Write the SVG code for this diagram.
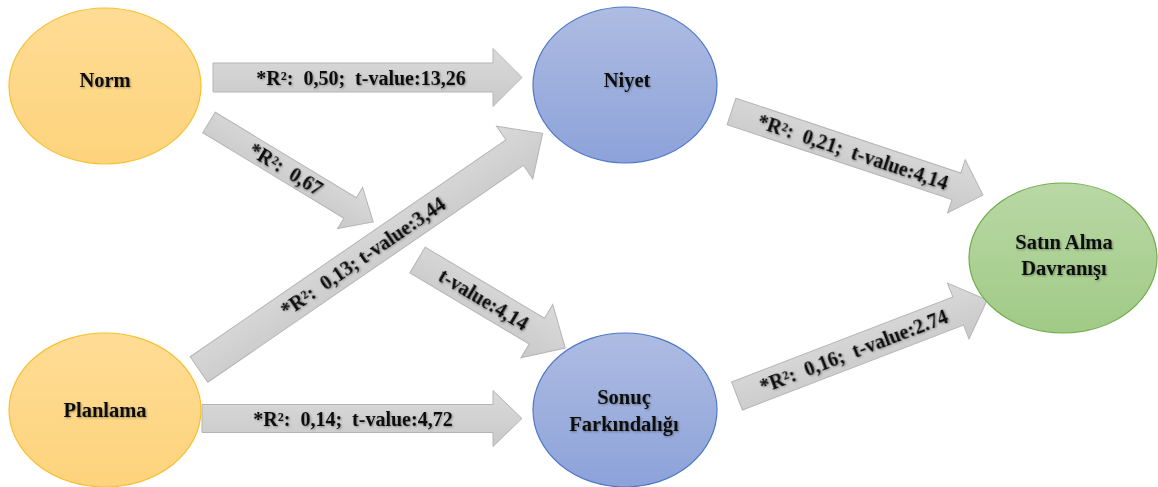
<svg xmlns="http://www.w3.org/2000/svg" width="1158" height="487" viewBox="0 0 1158 487">
  <defs>
    <linearGradient id="gOrange" x1="0" y1="0" x2="0" y2="1">
      <stop offset="0" stop-color="#ffdc95"/>
      <stop offset="1" stop-color="#fdd37c"/>
    </linearGradient>
    <linearGradient id="gBlue" x1="0" y1="0" x2="0" y2="1">
      <stop offset="0" stop-color="#aebce2"/>
      <stop offset="1" stop-color="#8ca2d9"/>
    </linearGradient>
    <linearGradient id="gGreen" x1="0" y1="0" x2="0" y2="1">
      <stop offset="0" stop-color="#b9d8a5"/>
      <stop offset="1" stop-color="#a0ca86"/>
    </linearGradient>
    <linearGradient id="gGray" x1="0" y1="0" x2="0" y2="1">
      <stop offset="0" stop-color="#dadada"/>
      <stop offset="1" stop-color="#c9c9c9"/>
    </linearGradient>
    <filter id="ts" x="-10%" y="-30%" width="120%" height="160%">
      <feGaussianBlur in="SourceAlpha" stdDeviation="0.8"/>
      <feOffset dx="0.8" dy="0.8" result="b"/>
      <feFlood flood-color="#000" flood-opacity="0.35"/>
      <feComposite in2="b" operator="in"/>
      <feMerge><feMergeNode/><feMergeNode in="SourceGraphic"/></feMerge>
    </filter>
  </defs>
  <style>
    .orange { fill: url(#gOrange); stroke: #f7c030; stroke-width: 1.2; }
    .blue { fill: url(#gBlue); stroke: #4f78c8; stroke-width: 1.2; }
    .green { fill: url(#gGreen); stroke: #72ad4c; stroke-width: 1.2; }
    .nlabel { font-family: "Liberation Serif", "Times New Roman", serif; font-weight: bold; font-size: 20.5px; fill: #111; text-anchor: middle; }
    .arrow { fill: url(#gGray); stroke: #b5b5b5; stroke-width: 1; }
    .alabel { font-family: "Liberation Serif", "Times New Roman", serif; font-weight: bold; font-size: 20px; fill: #111; text-anchor: middle; }
  </style>
  <rect width="1158" height="487" fill="#ffffff"/>

  <g id="connectors">
    <g transform="translate(213,77.5)">
      <path class="arrow" d="M0,-14.5 L280,-14.5 L280,-29 L309,0 L280,29 L280,14.5 L0,14.5 Z"/>
      <text class="alabel" x="148" y="7" filter="url(#ts)">*R²:&#160; 0,50;&#160; t-value:13,26</text>
    </g>
    <g transform="translate(202,418.5)">
      <path class="arrow" d="M0,-14 L291,-14 L291,-28 L320,0 L291,28 L291,14 L0,14 Z"/>
      <text class="alabel" x="151" y="7" filter="url(#ts)">*R²:&#160; 0,14;&#160; t-value:4,72</text>
    </g>
    <g transform="translate(209,122.5) rotate(31.2)">
      <path class="arrow" d="M0,-12 L165,-12 L165,-24 L192,0 L165,24 L165,12 L0,12 Z"/>
      <text class="alabel" x="90" y="7" filter="url(#ts)">*R²:&#160; 0,67</text>
    </g>
    <g transform="translate(199,369.5) rotate(-34.5)">
      <path class="arrow" d="M0,-15.5 L383,-15.5 L383,-32 L417,0 L383,32 L383,15.5 L0,15.5 Z"/>
      <text class="alabel" x="199" y="7" filter="url(#ts)">*R²:&#160; 0,13; t-value:3,44</text>
    </g>
    <g transform="translate(417.5,260) rotate(30.8)">
      <path class="arrow" d="M0,-15 L139,-15 L139,-31 L172,0 L139,31 L139,15 L0,15 Z"/>
      <text class="alabel" x="77" y="7" filter="url(#ts)">t-value:4,14</text>
    </g>
    <g transform="translate(731.5,111.5) rotate(18.4)">
      <path class="arrow" d="M0,-14 L237,-14 L237,-28 L265,0 L237,28 L237,14 L0,14 Z"/>
      <text class="alabel" x="128" y="7" filter="url(#ts)">*R²:&#160; 0,21;&#160; t-value:4,14</text>
    </g>
    <g transform="translate(737,396) rotate(-21)">
      <path class="arrow" d="M0,-15 L237,-15 L237,-30 L268,0 L237,30 L237,15 L0,15 Z"/>
      <text class="alabel" x="125" y="7" filter="url(#ts)">*R²:&#160; 0,16;&#160; t-value:2.74</text>
    </g>
  </g>

  <g id="norm">
    <ellipse class="orange" cx="105" cy="86" rx="96" ry="78"/>
    <text class="nlabel" x="105" y="87" filter="url(#ts)">Norm</text>
  </g>
  <g id="planlama">
    <ellipse class="orange" cx="105" cy="410" rx="96" ry="77"/>
    <text class="nlabel" x="105" y="417" filter="url(#ts)">Planlama</text>
  </g>
  <g id="niyet">
    <ellipse class="blue" cx="625" cy="85" rx="92" ry="78"/>
    <text class="nlabel" x="627" y="87" filter="url(#ts)">Niyet</text>
  </g>
  <g id="sonuc">
    <ellipse class="blue" cx="625" cy="410" rx="92" ry="77"/>
    <text class="nlabel" x="624" y="404" filter="url(#ts)">Sonuç</text>
    <text class="nlabel" x="624" y="431" filter="url(#ts)">Farkındalığı</text>
  </g>
  <g id="satin">
    <ellipse class="green" cx="1063" cy="258" rx="94" ry="75"/>
    <text class="nlabel" x="1064" y="249" filter="url(#ts)">Satın Alma</text>
    <text class="nlabel" x="1064" y="275" filter="url(#ts)">Davranışı</text>
  </g>
</svg>
